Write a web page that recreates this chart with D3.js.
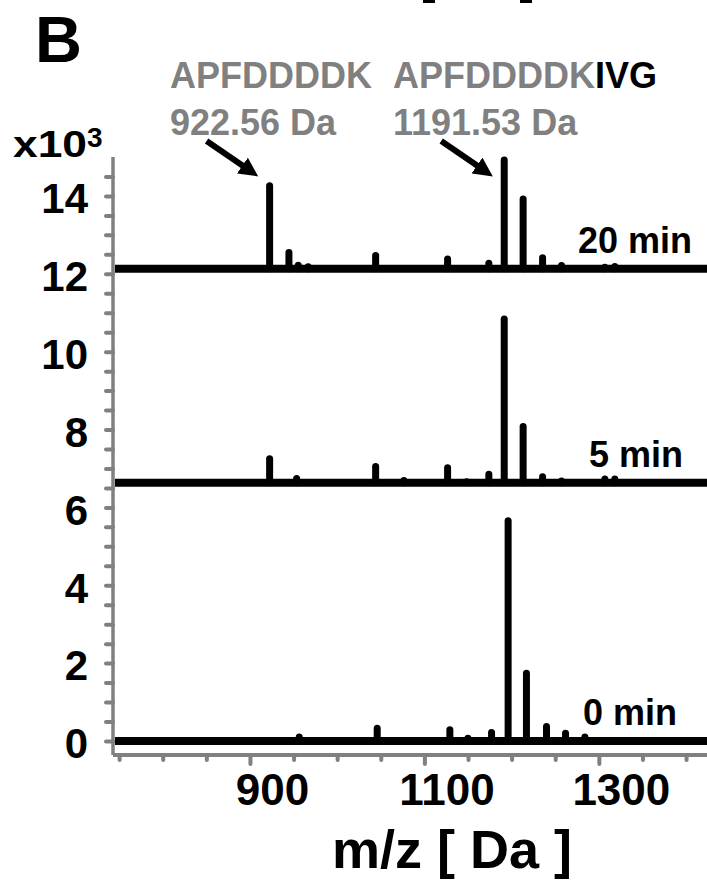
<!DOCTYPE html>
<html>
<head>
<meta charset="utf-8">
<script src="https://cdn.jsdelivr.net/npm/d3@7"></script>
<style>
  body { margin: 0; background: #fff; }
  svg { display: block; font-family: "Liberation Sans", Arial, sans-serif; font-weight: bold; }
</style>
</head>
<body>
<svg id="spectra" width="707" height="880"></svg>
<script>
// m/z window shown, and the three time points (stacked with an offset, x10^3 counts)
const mzDomain = [743, 1424];
const timeLabels = ["20 min", "5 min", "0 min"];
const baselines = [12.13, 6.63, 0];

// [m/z, intensity above baseline]
const peaks20 = [
  [922.56, 2.13], [944.7, 0.42], [955.4, 0.09], [966.8, 0.05],
  [1044.1, 0.34], [1126.6, 0.25], [1173.9, 0.14], [1191.53, 2.79],
  [1213.2, 1.79], [1235.5, 0.28], [1257.2, 0.08], [1306.9, 0.04], [1318.3, 0.06]
];
const peaks5 = [
  [922.56, 0.62], [953.5, 0.11], [1044.1, 0.42], [1076.5, 0.06],
  [1126.6, 0.39], [1148.4, 0.03], [1173.9, 0.22], [1191.53, 4.21],
  [1213.2, 1.45], [1235.5, 0.16], [1257.2, 0.05], [1306.9, 0.1], [1318.3, 0.1]
];
const peaks0 = [
  [956.5, 0.1], [1045.9, 0.33], [1129.2, 0.29], [1149.9, 0.07],
  [1177.0, 0.22], [1196.0, 5.66], [1217.0, 1.74], [1240.0, 0.37],
  [1261.8, 0.2], [1284.0, 0.1]
];
const traces = [peaks20, peaks5, peaks0];

// annotated species
const peakMz = [922.56, 1191.53];
const peakNames = [["APFDDDDK", ""], ["APFDDDDK", "IVG"]];
const peakMasses = ["922.56 Da", "1191.53 Da"];

// axis ticks
const xTickValues = d3.range(750, 1401, 50);
const xTickLabels = [900, 1100, 1300];
const yTickValues = d3.range(0, 14.51, 0.5);
const yTickLabels = [0, 2, 4, 6, 8, 10, 12, 14];

const grey = "#808080";

const svg = d3.select("#spectra"),
  width = +svg.attr("width"),
  height = +svg.attr("height");

const plotLeft = 113, plotTop = 157, plotBottom = height - 125;

const x = d3.scaleLinear().domain(mzDomain).range([plotLeft, width]);
const y = d3.scaleLinear().domain([-0.36, 15]).range([plotBottom, plotTop]);

// panel letter and the clipped bits of the title above it
svg.append("text").attr("x", 35).attr("y", 62).attr("font-size", 65).text("B");
svg.append("rect").attr("x", 423).attr("y", 0).attr("width", 12).attr("height", 3);
svg.append("rect").attr("x", 520).attr("y", 0).attr("width", 12).attr("height", 3);

// y axis
const yAxis = svg
  .append("g")
  .attr("transform", `translate(${plotLeft},0)`)
  .call(
    d3
      .axisLeft(y)
      .tickValues(yTickValues)
      .tickSize(7)
      .tickSizeOuter(0)
      .tickPadding(18)
      .tickFormat((d) => (yTickLabels.includes(d) ? d : ""))
  );
yAxis.select(".domain").attr("stroke", grey).attr("stroke-width", 3.5).attr("d", `M0,${plotBottom}V${plotTop}`);
yAxis.selectAll(".tick line").attr("stroke", grey).attr("stroke-width", 4).attr("stroke-linecap", "round");
yAxis
  .selectAll(".tick text")
  .attr("fill", "#000")
  .attr("font-size", 42)
  .attr("dy", "0.4em");
yAxis.attr("font-family", null).attr("font-size", null);

// x axis
const xAxis = svg
  .append("g")
  .attr("transform", `translate(0,${plotBottom})`)
  .call(
    d3
      .axisBottom(x)
      .tickValues(xTickValues)
      .tickSize(5)
      .tickSizeOuter(0)
      .tickFormat((d) => (xTickLabels.includes(d) ? d : ""))
  );
xAxis.select(".domain").attr("stroke", grey).attr("stroke-width", 4).attr("d", `M${plotLeft},0H${width}`);
xAxis
  .selectAll(".tick line")
  .attr("stroke", grey)
  .attr("stroke-width", 4)
  .attr("stroke-linecap", "round")
  .attr("y2", (d) => (xTickLabels.includes(d) ? 9 : 5));
xAxis
  .selectAll(".tick text")
  .attr("fill", "#000")
  .attr("font-size", 44)
  .attr("x", 22)
  .attr("y", 50)
  .attr("dy", 0);
xAxis.attr("font-family", null).attr("font-size", null);

svg
  .append("text")
  .attr("x", 452)
  .attr("y", 868)
  .attr("text-anchor", "middle")
  .attr("font-size", 54)
  .text("m/z [ Da ]");

// exponent label
const expo = svg.append("text").attr("x", 13).attr("y", 157).attr("font-size", 36);
expo.append("tspan").attr("textLength", 74).attr("lengthAdjust", "spacingAndGlyphs").text("x10");
expo.append("tspan").attr("font-size", 28).attr("dy", -10).text("3");

// spectra
const labelRight = [692, 683, 677];
traces.forEach((peaks, i) => {
  const base = baselines[i];
  const g = svg.append("g").attr("stroke", "#000").attr("stroke-linecap", "round");

  g.append("line")
    .attr("x1", x(mzDomain[0]) + 2)
    .attr("x2", x(mzDomain[1]))
    .attr("y1", y(base))
    .attr("y2", y(base))
    .attr("stroke-width", 8)
    .attr("stroke-linecap", "butt");

  g.selectAll(".peak")
    .data(peaks)
    .enter()
    .append("line")
    .attr("class", "peak")
    .attr("x1", (d) => x(d[0]))
    .attr("x2", (d) => x(d[0]))
    .attr("y1", y(base))
    .attr("y2", (d) => y(base + d[1]))
    .attr("stroke-width", 7);

  svg
    .append("text")
    .attr("x", labelRight[i])
    .attr("y", y(base) - 16)
    .attr("text-anchor", "end")
    .attr("font-size", 36)
    .text(timeLabels[i]);
});

// arrows and peak names
const defs = svg.append("defs");
defs
  .append("marker")
  .attr("id", "head")
  .attr("viewBox", "0 0 10 10")
  .attr("refX", 4.4)
  .attr("refY", 5)
  .attr("markerWidth", 3.2)
  .attr("markerHeight", 3.2)
  .attr("orient", "auto")
  .append("path")
  .attr("d", "M0,0L10,5L0,10z")
  .attr("fill", "#000");

const labelLeft = [170, 393];
peakMz.forEach((mz, i) => {
  const tipX = x(mz) - 12, tipY = 176;
  const ang = Math.atan2(35, 51);
  svg
    .append("line")
    .attr("x1", tipX - 51)
    .attr("y1", tipY - 35)
    .attr("x2", tipX - 10 * Math.cos(ang))
    .attr("y2", tipY - 10 * Math.sin(ang))
    .attr("stroke", "#000")
    .attr("stroke-width", 6)
    .attr("marker-end", "url(#head)");

  const name = svg.append("text").attr("x", labelLeft[i]).attr("y", 88).attr("font-size", 36);
  name.append("tspan").attr("fill", grey).text(peakNames[i][0]);
  name.append("tspan").attr("fill", "#000").text(peakNames[i][1]);

  svg
    .append("text")
    .attr("x", labelLeft[i])
    .attr("y", 135)
    .attr("font-size", 36)
    .attr("fill", grey)
    .text(peakMasses[i]);
});
</script>
</body>
</html>
